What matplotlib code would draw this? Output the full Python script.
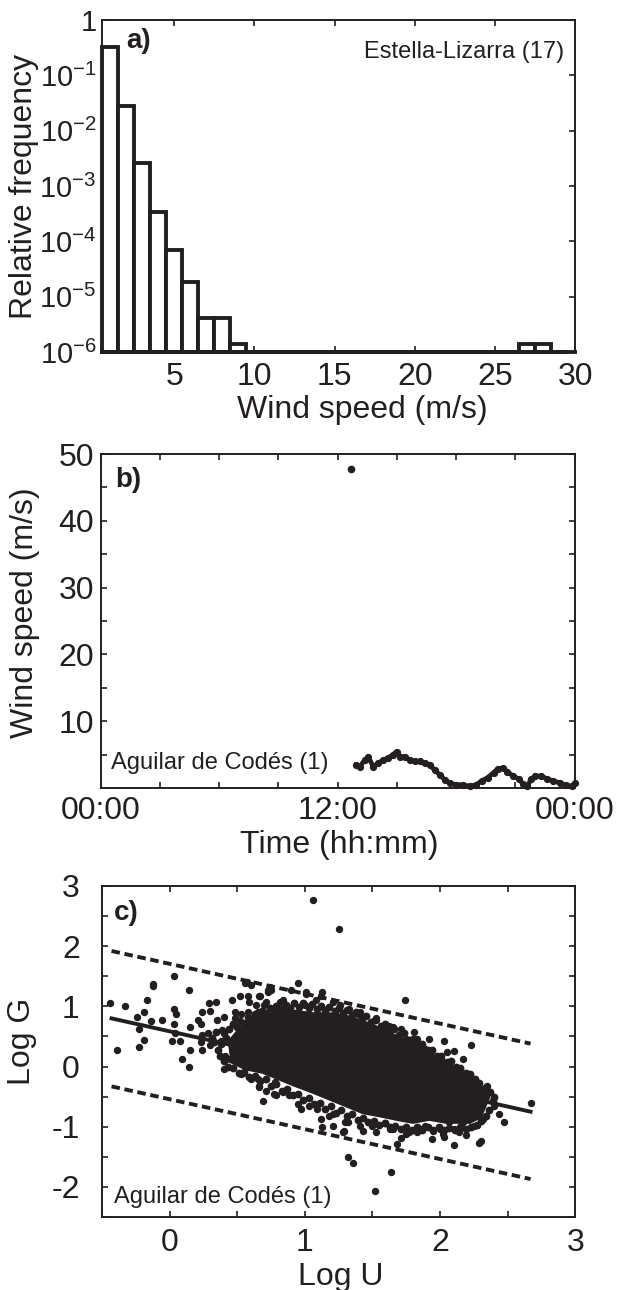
import numpy as np
import matplotlib
matplotlib.use('Agg')
import matplotlib.pyplot as plt
from matplotlib.ticker import FixedLocator, FixedFormatter, LogLocator, NullFormatter

plt.rcParams['font.family'] = ['Liberation Sans', 'DejaVu Sans']
plt.rcParams['mathtext.fontset'] = 'custom'
plt.rcParams['mathtext.rm'] = 'Liberation Sans'
plt.rcParams['axes.unicode_minus'] = False

ink = '#231f20'
big = 23
small = 17

# a) histogram of wind speed, Estella-Lizarra
speed_bins = np.arange(1, 30)
rel_freq = [0.33, 0.028, 0.0026, 3.4e-4, 6.9e-5, 1.85e-5, 4.2e-6, 4.2e-6, 1.4e-6,
            0, 0, 0, 0, 0, 0, 0, 0, 0, 0, 0, 0, 0, 0, 0, 0, 0,
            1.4e-6, 1.4e-6, 0]
freq_floor = 1e-6
decades = [1, 1e-1, 1e-2, 1e-3, 1e-4, 1e-5, 1e-6]
decade_labels = ['1', '$\\mathregular{10^{-1}}$', '$\\mathregular{10^{-2}}$', '$\\mathregular{10^{-3}}$',
                 '$\\mathregular{10^{-4}}$', '$\\mathregular{10^{-5}}$', '$\\mathregular{10^{-6}}$']

# b) time series, Aguilar de Codés
hours = [12.92, 13.12, 13.37, 13.55, 13.8, 14.05, 14.3, 14.55, 14.8, 14.98,
         15.15, 15.4, 15.65, 15.9, 16.16, 16.41, 16.66, 16.91, 17.17, 17.42,
         17.67, 18.0, 18.35, 18.69, 19.02, 19.29, 19.59, 19.9, 20.1, 20.4,
         20.6, 20.9, 21.2, 21.4, 21.6, 21.8, 22.0, 22.3, 22.6, 22.9,
         23.25, 23.55, 23.86, 24.0]
speed = [3.47, 3.2, 4.2, 4.7, 3.2, 3.7, 4.2, 4.5, 5.0, 5.45,
         4.7, 4.7, 4.2, 4.0, 4.0, 3.7, 3.5, 2.7, 2.0, 1.25,
         0.75, 0.5, 0.5, 0.25, 0.5, 1.06, 1.55, 2.3, 2.9, 3.0,
         2.4, 1.8, 1.3, 0.56, 0.31, 1.3, 1.8, 1.8, 1.4, 1.06,
         0.8, 0.4, 0.3, 0.7]
spike_hour = [12.69]
spike_speed = [47.8]

# c) Log G vs Log U, scattered points
log_u = [-0.44, -0.33, -0.39, -0.23, -0.19, -0.245, -0.23, -0.19, -0.17, -0.12, -0.125, 0.03, 0.14,
         0.03, 0.05, -0.06, -0.14, 0.03, 0.04, 0.02, 0.08, 0.15, 0.09, 0.14, 0.15, 0.24, 0.23, 0.21,
         0.29, 0.34, 0.30, 0.46, 0.58, 0.57, 0.60, 0.66, 0.73, 0.74, 0.65, 0.53, 0.48, 0.40, 0.35,
         0.39, 0.38, 0.28, 0.24, 0.23, 0.24, 0.30, 0.41, 0.40, 0.53, 0.45, 0.62, 0.67, 0.74, 0.53,
         0.65, 0.66, 0.71, 0.78, 0.79, 0.74, 0.81,
         0.95, 0.90, 1.13, 1.01, 0.75, 0.56, 1.74, 1.65, 1.81, 1.92, 2.03, 2.05, 2.17, 2.15, 0.69,
         0.84, 0.77, 0.97, 1.12, 1.13, 1.29, 1.32, 1.21, 1.43, 1.50, 1.63, 1.75, 1.85, 1.95, 2.02,
         2.10, 2.17, 0.51, 0.49, 0.54, 0.60, 0.66, 0.48, 0.59, 0.71, 0.84, 1.08, 1.26, 1.39, 1.53,
         1.60, 1.75, 1.87, 1.97, 2.07,
         1.06, 1.25, 2.23, 2.67, 1.32, 1.36, 1.64, 1.52, 1.68, 2.10, 2.35, 2.44, 2.47, 2.30, 2.29,
         2.10, 2.03, 1.94, 1.83, 1.71, 2.19, 2.40, 2.32, 2.25, 2.14, 2.22, 2.28, 2.34, 2.19, 2.25,
         2.16, 2.07, 1.21, 1.28, 1.59, 2.00, 2.13, 2.01, 1.89, 1.83, 1.71, 1.62, 1.53, 1.41, 1.33,
         1.21, 1.12, 1.00, 0.88, 0.82, 0.70, 0.58, 0.64, 0.52, 1.01, 0.67, 0.73,
         1.03, 0.95, 0.88, 1.09, 1.18, 1.30, 1.41, 1.53, 1.65, 1.77, 1.89]
log_g = [1.06, 1.01, 0.28, 0.32, 0.44, 0.82, 0.63, 0.90, 1.11, 1.37, 1.34, 1.51, 1.27,
         0.95, 0.87, 0.77, 0.76, 0.70, 0.56, 0.42, 0.42, 0.28, 0.13, 0.0, 0.66, 0.90, 0.71, 0.77,
         1.06, 1.08, 0.93, 1.10, 1.17, 1.40, 1.35, 1.17, 1.24, 1.32, 0.91, 0.88, 0.80, 0.82, 0.77,
         0.60, 0.43, 0.55, 0.52, 0.41, 0.27, 0.35, 0.18, -0.04, 0.07, 0.13, 0.24, 0.41, 0.46, -0.12,
         -0.21, -0.34, -0.40, -0.26, -0.48, 0.02, 0.13,
         1.38, 1.27, 1.24, 1.21, 1.27, 1.38, 1.10, 0.66, 0.57, 0.46, 0.43, 0.24, 0.13, -0.04, -0.57,
         -0.43, -0.46, -0.71, -0.87, -1.01, -1.07, -0.93, -0.79, -1.07, -0.98, -1.04, -1.12, -1.04, -1.07, -1.12,
         -1.04, -0.93, 0.35, 0.13, -0.10, -0.21, -0.32, 0.90, 1.07, 1.07, 1.10, 1.10, 1.02, 0.88, 0.80,
         0.68, 0.46, 0.32, 0.13, -0.04,
         2.77, 2.28, 0.35, -0.61, -1.51, -1.61, -1.76, -2.06, -1.29, 0.26, -0.33, -0.79, -0.93, -1.23, -1.27,
         -1.30, -1.17, -1.21, -1.09, -1.18, -1.14, -0.65, -0.87, -0.98, -1.09, -0.21, -0.32, -0.48, -0.43, -0.65,
         -0.76, -0.93, -0.99, -1.08, -0.94, -1.04, -0.04, 0.13, 0.29, 0.46, 0.63, 0.68, 0.77, 0.91, 0.96,
         1.07, 1.18, 1.02, 0.96, 1.07, 1.02, 0.91, 1.02, 1.18, 1.23, 1.18, 1.27,
         -0.65, -0.62, -0.48, -0.71, -0.82, -0.93, -0.98, -1.09, -1.04, -1.09, -0.98]

# densely packed dots along the rim of the cloud
rim_u = [0.40, 0.44, 0.47, 0.50, 0.52, 0.56, 0.58, 0.61, 0.63, 0.66, 0.68, 0.71, 0.74, 0.77, 0.79,
         0.83, 0.86, 0.89, 0.92, 0.96, 0.99, 1.03, 1.05, 1.09, 1.12, 1.15, 1.18, 1.22, 1.25, 1.28,
         1.31, 1.35, 1.38, 1.42, 1.45, 1.49, 1.52, 1.56, 1.59, 1.63, 1.66, 1.70, 1.73, 1.77, 1.80,
         1.84, 1.87, 1.91, 1.94, 1.98, 2.01, 2.05, 2.08, 2.12, 2.15, 2.19, 2.22, 2.26, 2.29, 2.33,
         2.37, 2.40, 2.39,
         2.36, 2.34, 2.30, 2.27, 2.23, 2.19, 2.15, 2.11, 2.07, 2.03, 1.99, 1.95, 1.91, 1.87, 1.83,
         1.79, 1.75, 1.71, 1.67, 1.63, 1.59, 1.55, 1.51, 1.47, 1.43, 1.39, 1.35, 1.31, 1.27, 1.23,
         1.19, 1.15, 1.11, 1.07, 1.03, 0.99, 0.95, 0.91, 0.87, 0.83, 0.79, 0.75, 0.71, 0.67, 0.63,
         0.59, 0.55, 0.51, 0.47, 0.43, 0.40, 0.37, 0.36, 0.38, 0.33, 0.31, 0.34, 0.42]
rim_g = [0.55, 0.62, 0.70, 0.66, 0.76, 0.72, 0.82, 0.78, 0.88, 0.84, 0.93, 0.89, 0.97, 0.93, 1.01,
         0.96, 1.03, 0.98, 1.05, 0.99, 1.06, 0.97, 1.04, 0.95, 1.01, 0.94, 0.99, 0.92, 0.97, 0.89,
         0.94, 0.85, 0.90, 0.80, 0.84, 0.74, 0.77, 0.68, 0.71, 0.60, 0.63, 0.52, 0.55, 0.44, 0.46,
         0.36, 0.37, 0.27, 0.28, 0.17, 0.18, 0.08, 0.09, -0.01, -0.02, -0.10, -0.13, -0.20, -0.27, -0.35,
         -0.42, -0.50, -0.58,
         -0.73, -0.83, -0.91, -0.97, -1.00, -1.04, -1.00, -1.05, -1.02, -1.06, -1.01, -1.05, -1.00, -1.06, -1.01,
         -1.05, -1.00, -1.03, -0.98, -1.01, -0.94, -0.97, -0.90, -0.93, -0.85, -0.89, -0.79, -0.82, -0.73, -0.77,
         -0.66, -0.70, -0.60, -0.63, -0.53, -0.56, -0.46, -0.48, -0.38, -0.41, -0.29, -0.33, -0.21, -0.24, -0.15,
         -0.18, -0.09, -0.11, -0.02, 0.00, 0.09, 0.17, 0.27, 0.37, 0.40, 0.48, 0.58, 0.48]

# outline of the solid black core of the cloud
core_u = [0.44, 0.53, 0.69, 0.81, 0.93, 1.06, 1.18, 1.30, 1.43, 1.55, 1.68, 1.80, 1.92, 2.05, 2.17,
          2.22, 2.30, 2.36, 2.30, 2.22, 2.05, 1.92, 1.80, 1.68, 1.55, 1.43, 1.30, 1.18, 1.06, 0.93,
          0.81, 0.69, 0.56, 0.46]
core_g = [0.42, 0.66, 0.84, 0.92, 0.92, 0.88, 0.88, 0.84, 0.75, 0.64, 0.50, 0.39, 0.22, 0.06, -0.11,
          -0.22, -0.34, -0.52, -0.84, -0.93, -0.93, -0.88, -0.93, -0.88, -0.82, -0.77, -0.65, -0.54, -0.43, -0.32,
          -0.21, -0.10, -0.04, 0.07]

fit_u = [-0.43, 2.67]
fit_g = [0.80, -0.75]
upper_g = [1.92, 0.38]
lower_g = [-0.33, -1.87]


def style_axes(ax):
    for s in ax.spines.values():
        s.set_linewidth(1.4)
        s.set_color(ink)
    ax.tick_params(which='both', direction='in', top=True, right=True, colors=ink,
                   labelsize=big, width=1.2)
    ax.tick_params(which='major', length=4)


fig = plt.figure(figsize=(6.3, 12.9), dpi=100)

# ---- a)
ax1 = fig.add_axes([0.162, 0.7271, 0.751, 0.2574])
ax1.set_yscale('log')
heights = [max(f - freq_floor, 0) for f in rel_freq]
ax1.bar(speed_bins, heights, width=1, bottom=freq_floor, facecolor='white',
        edgecolor=ink, linewidth=2.8, clip_on=False, zorder=3)
ax1.axhline(freq_floor, color=ink, lw=2.8, clip_on=False, zorder=4)
ax1.set_xlim(0.5, 30)
ax1.set_ylim(1e-6, 1)
style_axes(ax1)
ax1.yaxis.set_major_locator(FixedLocator(decades))
ax1.yaxis.set_major_formatter(FixedFormatter(decade_labels))
ax1.yaxis.set_minor_locator(LogLocator(base=10, subs=np.arange(2, 10)))
ax1.yaxis.set_minor_formatter(NullFormatter())
ax1.tick_params(which='minor', length=2, width=1)
ax1.set_xticks([5, 10, 15, 20, 25, 30])
ax1.tick_params(axis='x', pad=7)
ax1.tick_params(axis='y', pad=4, labelsize=21)
ax1.set_xlabel('Wind speed (m/s)', fontsize=big, color=ink)
ax1.xaxis.set_label_coords(0.55, -0.13)
ax1.set_ylabel('Relative frequency', fontsize=big, color=ink)
ax1.yaxis.set_label_coords(-0.134, 0.5)
ax1.text(0.051, 0.976, 'a)', transform=ax1.transAxes, fontsize=20, fontweight='bold',
         ha='left', va='top', color=ink)
ax1.text(0.977, 0.905, 'Estella-Lizarra (17)', transform=ax1.transAxes, fontsize=small,
         ha='right', va='center', color=ink)

# ---- b)
ax2 = fig.add_axes([0.160, 0.3891, 0.752, 0.2589])
ax2.plot(hours, speed, '-o', color=ink, lw=3.4, ms=4.2, clip_on=False, zorder=3)
ax2.plot(spike_hour, spike_speed, 'o', color=ink, ms=4.5)
ax2.set_xlim(0, 24)
ax2.set_ylim(0, 50)
style_axes(ax2)
ax2.set_yticks(np.arange(5, 51, 5))
ax2.set_yticklabels(['' if v % 10 else str(v) for v in range(5, 51, 5)])
ax2.set_xticks(np.arange(0, 25, 3))
ax2.set_xticklabels(['00:00' if h in (0, 24) else ('12:00' if h == 12 else '') for h in range(0, 25, 3)])
ax2.tick_params(axis='x', pad=6)
ax2.tick_params(axis='y', pad=5)
ax2.set_xlabel('Time (hh:mm)', fontsize=big, color=ink)
ax2.xaxis.set_label_coords(0.504, -0.126)
ax2.set_ylabel('Wind speed (m/s)', fontsize=big, color=ink)
ax2.yaxis.set_label_coords(-0.128, 0.524)
ax2.text(0.03, 0.962, 'b)', transform=ax2.transAxes, fontsize=20, fontweight='bold',
         ha='left', va='top', color=ink)
ax2.text(0.021, 0.075, 'Aguilar de Codés (1)', transform=ax2.transAxes, fontsize=small,
         ha='left', va='center', color=ink)

# ---- c)
ax3 = fig.add_axes([0.162, 0.0566, 0.751, 0.2566])
ax3.fill(core_u, core_g, color=ink, lw=2, zorder=2)
ax3.plot(rim_u, rim_g, 'o', color=ink, ms=4.6, zorder=2)
ax3.plot(log_u, log_g, 'o', color=ink, ms=4.3, zorder=2)
ax3.plot(fit_u, fit_g, '-', color=ink, lw=2.8, zorder=3)
ax3.plot(fit_u, upper_g, '--', color=ink, lw=2.8, dashes=(2.2, 1.2), zorder=3)
ax3.plot(fit_u, lower_g, '--', color=ink, lw=2.8, dashes=(2.2, 1.2), zorder=3)
ax3.set_xlim(-0.5, 3)
ax3.set_ylim(-2.5, 3)
style_axes(ax3)
ax3.set_xticks(np.arange(-0.5, 3.01, 0.5))
ax3.set_xticklabels(['' if v % 1 else str(int(v)) for v in np.arange(-0.5, 3.01, 0.5)])
ax3.set_yticks(np.arange(-2.5, 3.01, 0.5))
ax3.set_yticklabels(['' if (v % 1 or v < -2) else str(int(v)) for v in np.arange(-2.5, 3.01, 0.5)])
ax3.tick_params(axis='x', pad=8)
ax3.tick_params(axis='y', pad=16)
ax3.set_xlabel('Log U', fontsize=big, color=ink)
ax3.xaxis.set_label_coords(0.505, -0.136)
ax3.set_ylabel('Log G', fontsize=big, color=ink)
ax3.yaxis.set_label_coords(-0.137, 0.53)
ax3.text(0.026, 0.958, 'c)', transform=ax3.transAxes, fontsize=20, fontweight='bold',
         ha='left', va='top', color=ink)
ax3.text(0.026, 0.061, 'Aguilar de Codés (1)', transform=ax3.transAxes, fontsize=small,
         ha='left', va='center', color=ink)

fig.savefig('out.png', dpi=100)
